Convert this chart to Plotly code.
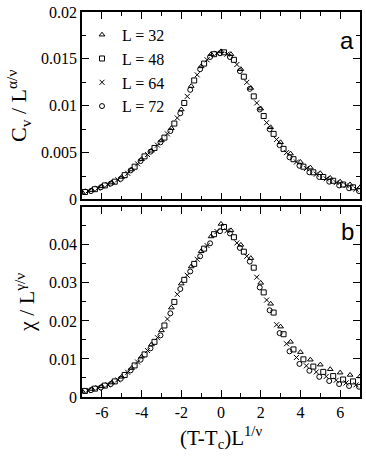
import plotly.graph_objects as go
from plotly.subplots import make_subplots

labels = ['L = 32', 'L = 48', 'L = 64', 'L = 72']
symbols = ['triangle-up-open', 'square-open', 'x-thin-open', 'circle-open']
xtick_vals = [-6, -4, -2, 0, 2, 4, 6]
xtick_text = ['-6', '-4', '-2', '0', '2', '4', '6']
cv_ticks = [0, 0.005, 0.01, 0.015, 0.02]
chi_ticks = [0, 0.01, 0.02, 0.03, 0.04]

x32 = [-7.0, -6.5, -6.0, -5.5, -5.0, -4.5, -4.0, -3.5, -3.0, -2.5, -2.0, -1.5, -1.0, -0.5, 0.0,
       0.5, 1.0, 1.5, 2.0, 2.5, 3.0, 3.5, 4.0, 4.5, 5.0, 5.5, 6.0, 6.5, 7.0]
x48 = [-6.85, -6.35, -5.85, -5.35, -4.85, -4.35, -3.85, -3.35, -2.85, -2.35, -1.85, -1.35, -0.85, -0.35,
       0.15, 0.65, 1.15, 1.65, 2.15, 2.65, 3.15, 3.65, 4.15, 4.65, 5.15, 5.65, 6.15, 6.65]
x64 = [-6.7, -6.2, -5.7, -5.2, -4.7, -4.2, -3.7, -3.2, -2.7, -2.2, -1.7, -1.2, -0.7, -0.2,
       0.3, 0.8, 1.3, 1.8, 2.3, 2.8, 3.3, 3.8, 4.3, 4.8, 5.3, 5.8, 6.3, 6.8]
x72 = [-6.55, -6.05, -5.55, -5.05, -4.55, -4.05, -3.55, -3.05, -2.55, -2.05, -1.55, -1.05, -0.55, -0.05,
       0.45, 0.95, 1.45, 1.95, 2.45, 2.95, 3.45, 3.95, 4.45, 4.95, 5.45, 5.95, 6.45, 6.95]

# specific heat, scaled
cv32 = [0.0008, 0.0010, 0.0014, 0.0018, 0.0024, 0.0032, 0.0043, 0.0052, 0.0063, 0.0076, 0.0096, 0.0121,
        0.0142, 0.0155, 0.0158, 0.0155, 0.0139, 0.0119, 0.0097, 0.0077, 0.0061, 0.0049, 0.0040, 0.0034,
        0.0028, 0.0023, 0.0019, 0.0016, 0.0013]
cv48 = [0.0008, 0.0011, 0.0015, 0.0019, 0.0026, 0.0035, 0.0046, 0.0055, 0.0066, 0.0081, 0.0103, 0.0127,
        0.0145, 0.0155, 0.0157, 0.0149, 0.0131, 0.0110, 0.0089, 0.0070, 0.0054, 0.0043, 0.0035, 0.0029,
        0.0024, 0.0020, 0.0016, 0.0013]
cv64 = [0.0009, 0.0012, 0.0016, 0.0021, 0.0028, 0.0038, 0.0048, 0.0058, 0.0070, 0.0087, 0.0110, 0.0133,
        0.0149, 0.0156, 0.0155, 0.0144, 0.0125, 0.0103, 0.0082, 0.0064, 0.0050, 0.0040, 0.0033, 0.0027,
        0.0022, 0.0018, 0.0015, 0.0011]
cv72 = [0.0009, 0.0013, 0.0017, 0.0022, 0.0031, 0.0041, 0.0051, 0.0061, 0.0073, 0.0092, 0.0117, 0.0139,
        0.0152, 0.0156, 0.0152, 0.0137, 0.0118, 0.0096, 0.0075, 0.0058, 0.0045, 0.0036, 0.0029, 0.0024,
        0.0019, 0.0015, 0.0012, 0.0009]

# susceptibility, scaled
chi32 = [0.0016, 0.0021, 0.0028, 0.0038, 0.0053, 0.0076, 0.0106, 0.0138, 0.0175, 0.0235, 0.0298, 0.0343,
         0.0383, 0.0422, 0.0455, 0.0438, 0.0400, 0.0365, 0.0300, 0.0245, 0.0185, 0.0145, 0.0118, 0.0098,
         0.0085, 0.0073, 0.0064, 0.0058, 0.0054]
chi48 = [0.0016, 0.0022, 0.0030, 0.0041, 0.0058, 0.0083, 0.0112, 0.0145, 0.0188, 0.0250, 0.0308, 0.0350,
         0.0390, 0.0428, 0.0447, 0.0420, 0.0382, 0.0340, 0.0275, 0.0222, 0.0165, 0.0125, 0.0099, 0.0080,
         0.0066, 0.0055, 0.0046, 0.0041]
chi64 = [0.0017, 0.0024, 0.0032, 0.0045, 0.0065, 0.0092, 0.0122, 0.0156, 0.0205, 0.0270, 0.0320, 0.0362,
         0.0398, 0.0435, 0.0437, 0.0405, 0.0370, 0.0315, 0.0255, 0.0190, 0.0140, 0.0104, 0.0082, 0.0066,
         0.0054, 0.0044, 0.0037, 0.0032]
chi72 = [0.0018, 0.0025, 0.0034, 0.0048, 0.0070, 0.0098, 0.0128, 0.0162, 0.0220, 0.0284, 0.0330, 0.0370,
         0.0404, 0.0436, 0.0430, 0.0392, 0.0356, 0.0288, 0.0228, 0.0168, 0.0120, 0.0087, 0.0069, 0.0053,
         0.0042, 0.0034, 0.0029, 0.0027]

xs = [x32, x48, x64, x72]
cvs = [cv32, cv48, cv64, cv72]
chis = [chi32, chi48, chi64, chi72]

fig = make_subplots(rows=2, cols=1, shared_xaxes=True, vertical_spacing=0.02)

for i in range(4):
    mk = dict(symbol=symbols[i], size=5, color='black', line=dict(width=1, color='black'))
    fig.add_trace(go.Scatter(x=xs[i], y=cvs[i], mode='markers', name=labels[i], marker=mk),
                  row=1, col=1)
    fig.add_trace(go.Scatter(x=xs[i], y=chis[i], mode='markers', showlegend=False, marker=mk),
                  row=2, col=1)

serif = 'Liberation Serif'
ax = dict(range=[-7, 7], showline=True, linecolor='black', linewidth=1.5, mirror='ticks',
          ticks='inside', ticklen=7, tickwidth=1, tickcolor='black', showgrid=False, zeroline=False,
          tickmode='array', tickvals=xtick_vals, ticktext=xtick_text,
          minor=dict(ticks='inside', ticklen=4, dtick=1, tick0=0, tickcolor='black', showgrid=False),
          tickfont=dict(family=serif, size=16, color='black'))
fig.update_xaxes(**ax)
fig.update_xaxes(showticklabels=False, row=1, col=1)
fig.update_xaxes(title=dict(text='(T-T<sub>c</sub>)L<sup>1/ν</sup>',
                            font=dict(family=serif, size=21, color='black'), standoff=10),
                 row=2, col=1)

ay = dict(showline=True, linecolor='black', linewidth=1.5, mirror='ticks', ticks='inside', ticklen=7,
          tickwidth=1, tickcolor='black', showgrid=False, zeroline=False, tickmode='array',
          ticklabeloverflow='allow', tickfont=dict(family=serif, size=16, color='black'))
fig.update_yaxes(**ay)
fig.update_yaxes(range=[0, 0.020001], tickvals=cv_ticks, ticktext=[f'{v:g}' for v in cv_ticks],
                 domain=[0.513, 1],
                 minor=dict(ticks='inside', ticklen=4, dtick=0.0025, tick0=0, tickcolor='black'),
                 title=dict(text='C<sub>v</sub> / L<sup>α/ν</sup>',
                            font=dict(family=serif, size=22, color='black'), standoff=8),
                 row=1, col=1)
fig.update_yaxes(range=[0, 0.05], tickvals=chi_ticks, ticktext=[f'{v:g}' for v in chi_ticks],
                 domain=[0, 0.494],
                 minor=dict(ticks='inside', ticklen=4, dtick=0.005, tick0=0, tickcolor='black'),
                 title=dict(text='χ / L<sup>γ/ν</sup>',
                            font=dict(family=serif, size=22, color='black'), standoff=8),
                 row=2, col=1)

fig.add_annotation(text='a', xref='paper', yref='paper', x=0.985, y=0.965, showarrow=False,
                   xanchor='right', yanchor='top', font=dict(family='Liberation Sans', size=24, color='black'))
fig.add_annotation(text='b', xref='paper', yref='paper', x=0.985, y=0.47, showarrow=False,
                   xanchor='right', yanchor='top', font=dict(family='Liberation Sans', size=24, color='black'))

fig.update_layout(width=366, height=456, margin=dict(l=82, r=4, t=7, b=59),
                  paper_bgcolor='white', plot_bgcolor='white',
                  legend=dict(x=0.0, y=0.985, xanchor='left', yanchor='top', bgcolor='rgba(0,0,0,0)',
                              font=dict(family=serif, size=16, color='black'), tracegroupgap=0,
                              itemwidth=30),
                  showlegend=True)

fig.write_html('out.html', config={'displayModeBar': False},
               post_script="document.body.style.margin='0';")
